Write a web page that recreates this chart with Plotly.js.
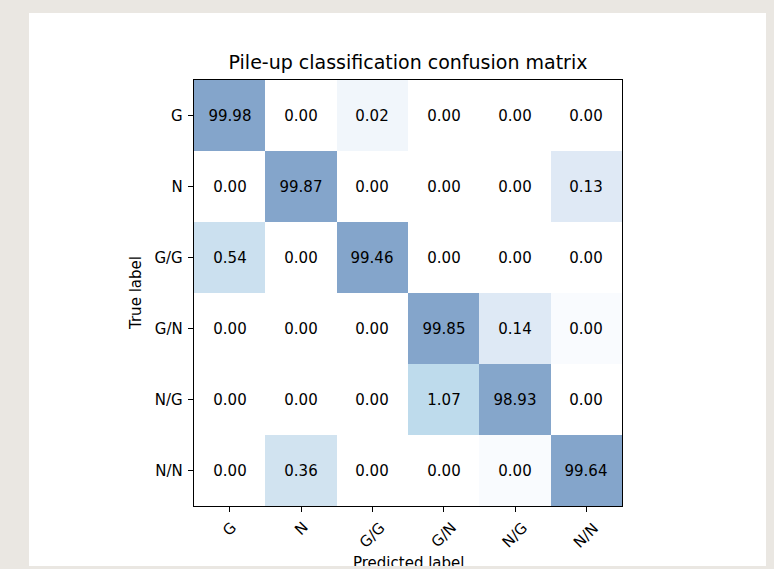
<!DOCTYPE html>
<html>
<head>
<meta charset="utf-8">
<script src="https://cdn.plot.ly/plotly-3.0.1.min.js"></script>
<style>
  html, body { margin: 0; padding: 0; width: 774px; height: 569px; overflow: hidden; background: #eae7e2; }
  #panel { position: absolute; left: 29px; top: 13px; width: 737px; height: 553px; background: #ffffff; overflow: hidden; }
  #chart { position: absolute; left: -29px; top: -13px; width: 774px; height: 569px; }
</style>
</head>
<body>
<div id="panel"><div id="chart"></div></div>
<script>
// ---- data ----
const predictedLabels = ['G', 'N', 'G/G', 'G/N', 'N/G', 'N/N'];
const trueLabels = ['G', 'N', 'G/G', 'G/N', 'N/G', 'N/N'];
const rowG   = [99.98, 0.00, 0.02, 0.00, 0.00, 0.00];
const rowN   = [0.00, 99.87, 0.00, 0.00, 0.00, 0.13];
const rowGG  = [0.54, 0.00, 99.46, 0.00, 0.00, 0.00];
const rowGN  = [0.00, 0.00, 0.00, 99.85, 0.14, 0.004];
const rowNG  = [0.00, 0.00, 0.00, 1.07, 98.93, 0.00];
const rowNN  = [0.00, 0.36, 0.00, 0.00, 0.004, 99.64];
const matrix = [rowG, rowN, rowGG, rowGN, rowNG, rowNN];

// ---- colour scale (value breakpoints -> colours) ----
const colorBreaks = [0, 0.004, 0.02, 0.13, 0.36, 0.54, 1.07, 100];
const breakColors = ['#ffffff', '#f9fbfe', '#f1f6fb', '#dfe9f5', '#d1e3f0', '#cbe0ef', '#bedbec', '#84a5cb'];
const colorscale = colorBreaks.map((v, i) => [v / 100, breakColors[i]]);

const FONT = 'DejaVu Sans, sans-serif';

const trace = {
  type: 'heatmap',
  x: predictedLabels,
  y: trueLabels,
  z: matrix,
  zmin: 0,
  zmax: 100,
  colorscale: colorscale,
  showscale: false,
  texttemplate: '%{z:.2f}',
  textfont: { family: FONT, size: 15, color: '#000000' },
  hoverinfo: 'skip'
};

const axisCommon = {
  type: 'category',
  showline: true,
  mirror: true,
  linecolor: '#000000',
  linewidth: 1.3,
  ticks: 'outside',
  ticklen: 5,
  tickwidth: 1,
  tickcolor: '#000000',
  showgrid: false,
  zeroline: false,
  fixedrange: true
};

const annotations = predictedLabels.map(lbl => ({
  x: lbl, xref: 'x',
  y: 0, yref: 'paper',
  yanchor: 'top', xanchor: 'center',
  yshift: -10,
  textangle: -45,
  text: lbl,
  showarrow: false,
  font: { family: FONT, size: 15, color: '#000000' }
}));
annotations.push({
  x: 0.5, xref: 'paper', y: 0, yref: 'paper',
  xanchor: 'center', yanchor: 'middle', yshift: -57,
  text: 'Predicted label', showarrow: false,
  font: { family: FONT, size: 15, color: '#000000' }
});
annotations.push({
  x: 0, xref: 'paper', y: 0.5, yref: 'paper',
  xanchor: 'center', yanchor: 'middle', xshift: -58,
  textangle: -90,
  text: 'True label', showarrow: false,
  font: { family: FONT, size: 15, color: '#000000' }
});

const layout = {
  width: 774,
  height: 569,
  margin: { l: 194, r: 152, t: 80, b: 63, pad: 0 },
  paper_bgcolor: 'rgba(0,0,0,0)',
  plot_bgcolor: '#ffffff',
  font: { family: FONT, color: '#000000' },
  title: {
    text: 'Pile-up classification confusion matrix',
    font: { family: FONT, size: 19, color: '#000000' },
    x: 0.5, xref: 'paper', xanchor: 'center',
    y: 1 - 62 / 569, yref: 'container', yanchor: 'middle'
  },
  xaxis: Object.assign({}, axisCommon, {
    categoryorder: 'array', categoryarray: predictedLabels,
    range: [-0.5, 5.5],
    showticklabels: false
  }),
  yaxis: Object.assign({}, axisCommon, {
    categoryorder: 'array', categoryarray: trueLabels,
    range: [5.5, -0.5],
    showticklabels: true,
    ticklabelstandoff: 2,
    tickfont: { family: FONT, size: 15, color: '#000000' }
  }),
  annotations: annotations
};

Plotly.newPlot('chart', [trace], layout, { displayModeBar: false, staticPlot: true });
</script>
</body>
</html>
